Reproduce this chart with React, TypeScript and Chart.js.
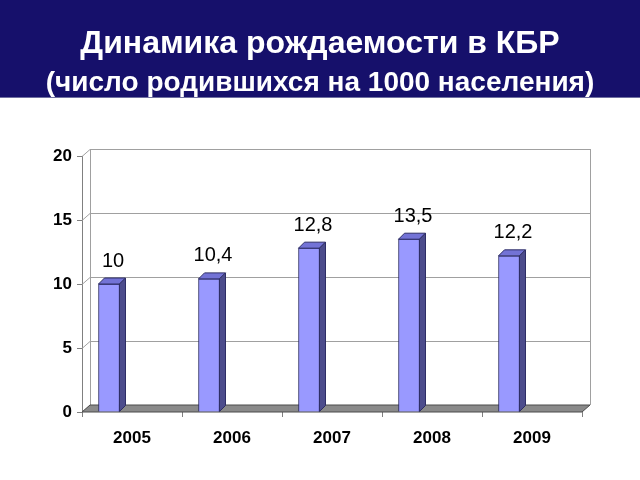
import React, { useEffect, useRef } from "react";
import { Chart, registerables } from "chart.js";

Chart.register(...registerables);

const TITLE = "Динамика рождаемости в КБР";
const SUBTITLE = "(число родившихся на 1000 населения)";
const YEARS = ["2005", "2006", "2007", "2008", "2009"];
const BIRTH_RATE = [10, 10.4, 12.8, 13.5, 12.2];
const Y_TICKS = [0, 5, 10, 15, 20];

const FONT = "'Liberation Sans', Arial, sans-serif";
const NAVY = "#16106b";
const GRID = "#a0a0a0";
const WALL_DX = 8;
const WALL_DY = 7;
const BAR_DX = 6;
const BAR_DY = 6;

const fmt = (v: number) => String(v).replace(".", ",");

const threeD = {
  id: "threeD",
  beforeDraw(chart: any) {
    const ctx = chart.ctx;
    ctx.save();
    ctx.fillStyle = NAVY;
    ctx.fillRect(0, 0, chart.width, 97);
    ctx.fillStyle = "#6f6fa0";
    ctx.fillRect(0, 97, chart.width, 1);
    ctx.restore();
  },
  beforeDatasetsDraw(chart: any) {
    const ctx = chart.ctx;
    const ys = chart.scales.y;
    const { left: L, right: R } = chart.chartArea;
    const B = ys.getPixelForValue(0);
    const T = ys.getPixelForValue(20);
    ctx.save();
    ctx.lineWidth = 1;
    ctx.strokeStyle = GRID;
    ctx.beginPath();
    ctx.moveTo(L + WALL_DX + 0.5, T - WALL_DY);
    ctx.lineTo(L + WALL_DX + 0.5, B - WALL_DY);
    ctx.moveTo(R + WALL_DX + 0.5, T - WALL_DY);
    ctx.lineTo(R + WALL_DX + 0.5, B - WALL_DY);
    ctx.stroke();
    Y_TICKS.forEach((v) => {
      const yy = Math.round(ys.getPixelForValue(v)) + 0.5;
      ctx.beginPath();
      ctx.moveTo(L, yy);
      ctx.lineTo(L + WALL_DX, yy - WALL_DY);
      ctx.lineTo(R + WALL_DX, yy - WALL_DY);
      ctx.stroke();
    });
    ctx.beginPath();
    ctx.moveTo(L, B);
    ctx.lineTo(R, B);
    ctx.lineTo(R + WALL_DX, B - WALL_DY);
    ctx.lineTo(L + WALL_DX, B - WALL_DY);
    ctx.closePath();
    ctx.fillStyle = "#8a8a8a";
    ctx.fill();
    ctx.strokeStyle = "#4a4a4a";
    ctx.stroke();
    ctx.restore();
  },
  afterDatasetsDraw(chart: any) {
    const ctx = chart.ctx;
    const meta = chart.getDatasetMeta(0);
    ctx.save();
    ctx.lineWidth = 1;
    ctx.strokeStyle = "#2e2e66";
    meta.data.forEach((bar: any, i: number) => {
      const { x, y, width, base } = bar.getProps(["x", "y", "width", "base"], true);
      const l = x - width / 2;
      const r = x + width / 2;
      ctx.beginPath();
      ctx.moveTo(l, y);
      ctx.lineTo(l + BAR_DX, y - BAR_DY);
      ctx.lineTo(r + BAR_DX, y - BAR_DY);
      ctx.lineTo(r, y);
      ctx.closePath();
      ctx.fillStyle = "#7373d6";
      ctx.fill();
      ctx.stroke();
      ctx.beginPath();
      ctx.moveTo(r, y);
      ctx.lineTo(r + BAR_DX, y - BAR_DY);
      ctx.lineTo(r + BAR_DX, base - BAR_DY);
      ctx.lineTo(r, base);
      ctx.closePath();
      ctx.fillStyle = "#4c4c8c";
      ctx.fill();
      ctx.stroke();
      ctx.fillStyle = "#000";
      ctx.font = `20px ${FONT}`;
      ctx.textAlign = "center";
      ctx.textBaseline = "middle";
      ctx.fillText(fmt(BIRTH_RATE[i]), x + 4, y - 23);
    });
    ctx.restore();
  },
};

export default function App() {
  const ref = useRef<HTMLCanvasElement>(null);
  useEffect(() => {
    if (!ref.current) return;
    const chart = new Chart(ref.current, {
      type: "bar",
      data: {
        labels: YEARS,
        datasets: [
          {
            data: BIRTH_RATE.map((v, i) => ({ x: i, y: v })),
            xAxisID: "xb",
            backgroundColor: "#9999ff",
            borderColor: "#2e2e66",
            borderWidth: 1,
            barThickness: 21,
          },
        ],
      },
      options: {
        animation: false,
        responsive: true,
        maintainAspectRatio: false,
        layout: { padding: 0 },
        plugins: {
          legend: { display: false },
          tooltip: { enabled: false },
          title: {
            display: true,
            text: TITLE,
            color: "#ffffff",
            font: { family: FONT, size: 32, weight: "bold", lineHeight: 1.2 },
            padding: { top: 25, bottom: 3 },
          },
          subtitle: {
            display: true,
            text: SUBTITLE,
            color: "#ffffff",
            font: { family: FONT, size: 28, weight: "bold", lineHeight: 1.2 },
            padding: { top: 0, bottom: 56 },
          },
        },
        scales: {
          x: {
            type: "category",
            offset: true,
            grid: {
              display: true,
              offset: true,
              drawOnChartArea: false,
              drawTicks: true,
              tickLength: 5,
              color: "#808080",
            },
            border: { display: false },
            ticks: {
              color: "#000",
              padding: 11,
              font: { family: FONT, size: 17, weight: "bold" },
            },
            afterFit: (s: any) => {
              s.height = 68;
            },
          },
          xb: {
            type: "linear",
            display: false,
            offset: false,
            min: -0.27,
            max: 4.73,
            grid: { offset: false },
          },
          y: {
            min: 0,
            max: 20,
            ticks: {
              stepSize: 5,
              color: "#000",
              padding: 5,
              font: { family: FONT, size: 17, weight: "bold" },
            },
            grid: {
              display: true,
              drawOnChartArea: false,
              drawTicks: true,
              tickLength: 5,
              color: "#808080",
            },
            border: { display: true, color: "#808080" },
            afterFit: (s: any) => {
              s.width = 82;
            },
          },
          yRight: {
            type: "linear",
            position: "right",
            display: true,
            min: 0,
            max: 20,
            grid: { display: false, drawTicks: false },
            border: { display: false },
            ticks: { display: false },
            afterFit: (s: any) => {
              s.width = 58;
            },
          },
        },
      },
      plugins: [threeD],
    });
    return () => chart.destroy();
  }, []);
  return (
    <div style={{ position: "fixed", left: 0, top: 0, width: 640, height: 480, background: "#fff" }}>
      <canvas ref={ref} />
    </div>
  );
}
